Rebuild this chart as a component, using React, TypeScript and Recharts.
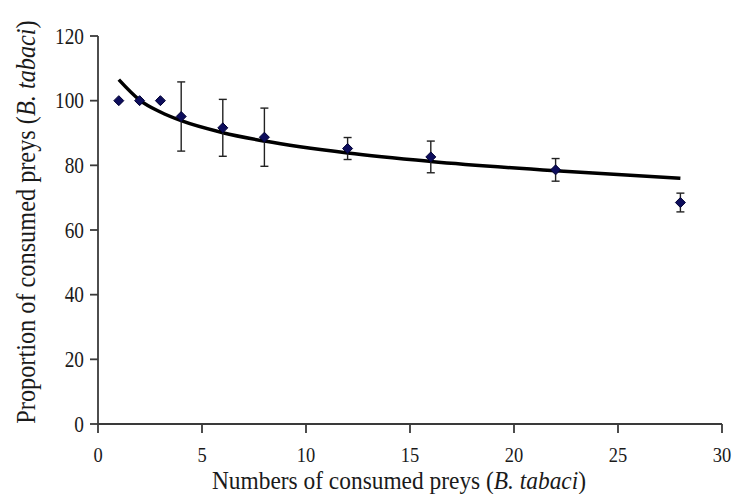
import React from 'react';
import {
  ComposedChart, Line, Scatter, ErrorBar, XAxis, YAxis, Label,
} from 'recharts';

// numbers of preys offered (x) and proportion consumed (mean ± error)
const preyNumbers = [1, 2, 3, 4, 6, 8, 12, 16, 22, 28];
const meanProportion = [100, 100, 100, 95.1, 91.6, 88.7, 85.2, 82.6, 78.6, 68.5];
const errorSize = [null, null, null, 10.7, 8.8, 9.0, 3.4, 4.9, 3.5, 2.9];
// fitted trend line at the same x positions
const trendValues = [106.5, 100.2, 96.5, 93.8, 90.1, 87.5, 83.8, 81.2, 78.3, 76.0];

const xTicks = [0, 5, 10, 15, 20, 25, 30];
const yTicks = [0, 20, 40, 60, 80, 100, 120];

const data = preyNumbers.map((x, i) => ({
  x,
  mean: meanProportion[i],
  err: errorSize[i],
  trend: trendValues[i],
}));

const FONT = '"Liberation Serif", "Times New Roman", serif';
const INK = '#1a1a1a';
const AXIS = '#3a3a3a';

const XTick = ({ x, y, payload }: any) => (
  <g transform={`translate(${x},${y}) scale(0.84,1)`}>
    <text x={0} y={0} textAnchor="middle" dominantBaseline="central" style={{ fontFamily: FONT, fontSize: 22 }} fill={INK}>
      {payload.value}
    </text>
  </g>
);

const YTick = ({ x, y, payload }: any) => (
  <g transform={`translate(${x},${y}) scale(0.84,1)`}>
    <text x={0} y={0} textAnchor="end" dominantBaseline="central" style={{ fontFamily: FONT, fontSize: 23 }} fill={INK}>
      {payload.value}
    </text>
  </g>
);

const XTitle = () => (
  <g transform="translate(399,489) scale(0.9,1)">
    <text x={0} y={0} textAnchor="middle" style={{ fontFamily: FONT, fontSize: 26 }} fill={INK}>
      Numbers of consumed preys (<tspan fontStyle="italic">B. tabaci</tspan>)
    </text>
  </g>
);

const YTitle = () => (
  <g transform="translate(35,222) rotate(-90) scale(0.9,1)">
    <text x={0} y={0} textAnchor="middle" style={{ fontFamily: FONT, fontSize: 27 }} fill={INK}>
      Proportion of consumed preys (<tspan fontStyle="italic">B. tabaci</tspan>)
    </text>
  </g>
);

const Diamond = ({ cx, cy }: any) => {
  if (cx == null || cy == null) return null;
  const r = 5;
  return (
    <polygon
      points={`${cx},${cy - r} ${cx + r},${cy} ${cx},${cy + r} ${cx - r},${cy}`}
      fill="#0d0d5c"
      stroke="#000033"
      strokeWidth={1}
    />
  );
};

export default function App() {
  return (
    <div style={{ position: 'absolute', left: 0, top: 0, background: '#fff' }}>
      <ComposedChart
        width={735}
        height={494}
        data={data}
        margin={{ top: 36, right: 13, left: 0, bottom: 0 }}
      >
        <XAxis
          dataKey="x"
          type="number"
          domain={[0, 30]}
          ticks={xTicks}
          height={70}
          tick={<XTick />}
          tickSize={9}
          tickMargin={21}
          axisLine={{ stroke: AXIS, strokeWidth: 1.8 }}
          tickLine={{ stroke: AXIS, strokeWidth: 1.8 }}
        >
          <Label content={<XTitle />} />
        </XAxis>
        <YAxis
          type="number"
          domain={[0, 120]}
          ticks={yTicks}
          width={98}
          tick={<YTick />}
          tickSize={8}
          tickMargin={6}
          axisLine={{ stroke: AXIS, strokeWidth: 1.8 }}
          tickLine={{ stroke: AXIS, strokeWidth: 1.8 }}
        >
          <Label content={<YTitle />} />
        </YAxis>
        <Line
          dataKey="trend"
          type="monotone"
          stroke="#000"
          strokeWidth={3.5}
          dot={false}
          activeDot={false}
          isAnimationActive={false}
        />
        <Scatter dataKey="mean" shape={<Diamond />} isAnimationActive={false}>
          <ErrorBar dataKey="err" direction="y" width={4} stroke="#222" strokeWidth={1.4} />
        </Scatter>
      </ComposedChart>
    </div>
  );
}
